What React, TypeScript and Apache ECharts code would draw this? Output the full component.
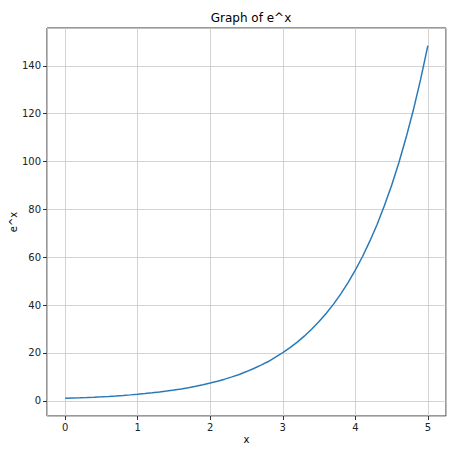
import React, { useEffect, useRef } from "react";
import * as echarts from "echarts";

const xValues = [
  0, 0.1, 0.2, 0.3, 0.4, 0.5, 0.6, 0.7, 0.8, 0.9,
  1, 1.1, 1.2, 1.3, 1.4, 1.5, 1.6, 1.7, 1.8, 1.9,
  2, 2.1, 2.2, 2.3, 2.4, 2.5, 2.6, 2.7, 2.8, 2.9,
  3, 3.1, 3.2, 3.3, 3.4, 3.5, 3.6, 3.7, 3.8, 3.9,
  4, 4.1, 4.2, 4.3, 4.4, 4.5, 4.6, 4.7, 4.8, 4.9, 5,
];
const yValues = [
  1.0, 1.11, 1.22, 1.35, 1.49, 1.65, 1.82, 2.01, 2.23, 2.46,
  2.72, 3.0, 3.32, 3.67, 4.06, 4.48, 4.95, 5.47, 6.05, 6.69,
  7.39, 8.17, 9.03, 9.97, 11.0, 12.2, 13.5, 14.9, 16.4, 18.2,
  20.1, 22.2, 24.5, 27.1, 30.0, 33.1, 36.6, 40.4, 44.7, 49.4,
  54.6, 60.3, 66.7, 73.7, 81.5, 90.0, 99.5, 110.0, 121.5, 134.3, 148.4,
];
const titleText = "Graph of e^x";
const xName = "x";
const yName = "e^x";

export default function App() {
  const ref = useRef<HTMLDivElement>(null);
  useEffect(() => {
    document.body.style.margin = "0";
    const chart = echarts.init(ref.current!, null, { renderer: "svg" });
    const font = "DejaVu Sans";
    const data = xValues.map((x, i) => [x, yValues[i]]);
    chart.setOption({
      animation: false,
      backgroundColor: "#fff",
      title: {
        text: titleText,
        left: 246,
        textAlign: "center",
        top: 7,
        textStyle: { fontFamily: font, fontSize: 12, fontWeight: "normal", color: "#000" },
      },
      grid: {
        left: 47,
        right: 28,
        top: 28,
        bottom: 35,
        show: true,
        borderColor: "#333",
        borderWidth: 1,
        backgroundColor: "transparent",
        containLabel: false,
        outerBoundsMode: "none",
      },
      xAxis: {
        type: "value",
        min: -0.25,
        max: 5.25,
        splitNumber: 5,
        name: xName,
        nameLocation: "middle",
        nameGap: 18,
        nameMoveOverlap: false,
        nameTextStyle: { fontFamily: font, fontSize: 10, color: "#000" },
        axisLine: { show: false, onZero: false },
        axisTick: { show: true, length: 4, lineStyle: { color: "#333" } },
        axisLabel: { fontFamily: font, fontSize: 10, color: "#222", margin: 6, showMinLabel: false, showMaxLabel: false },
        splitLine: { show: true, lineStyle: { color: "#c8c8c8", width: 0.8 } },
      },
      yAxis: {
        type: "value",
        min: -6.37,
        max: 155.8,
        splitNumber: 8,
        name: yName,
        nameLocation: "middle",
        nameGap: 29,
        nameRotate: 90,
        nameMoveOverlap: false,
        nameTextStyle: { fontFamily: font, fontSize: 10, color: "#000" },
        axisLine: { show: false, onZero: false },
        axisTick: { show: true, length: 4, lineStyle: { color: "#333" } },
        axisLabel: { fontFamily: font, fontSize: 10, color: "#222", margin: 6, showMinLabel: false, showMaxLabel: false },
        splitLine: { show: true, lineStyle: { color: "#c8c8c8", width: 0.8 } },
      },
      series: [
        {
          type: "line",
          data,
          showSymbol: false,
          smooth: false,
          lineStyle: { color: "#2a7ab8", width: 1.5 },
        },
      ],
    });
    return () => chart.dispose();
  }, []);
  return <div ref={ref} style={{ width: 474, height: 451 }} />;
}
